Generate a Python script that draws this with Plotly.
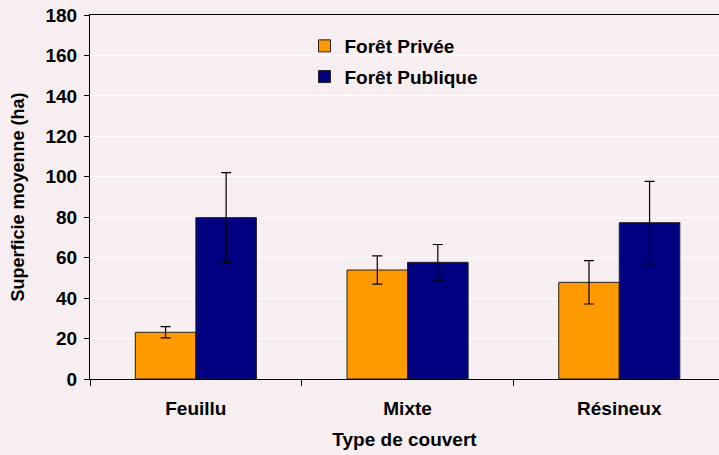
import plotly.graph_objects as go

categories = ["Feuillu", "Mixte", "Résineux"]
prive = [23.1, 53.9, 47.8]
prive_err = [2.8, 7.0, 10.7]
public = [79.8, 57.7, 77.3]
public_err = [22.3, 8.8, 20.4]
yticks = [0, 20, 40, 60, 80, 100, 120, 140, 160, 180]

FONT = "Liberation Sans, Arial, sans-serif"

fig = go.Figure()
fig.add_trace(go.Bar(
    x=categories, y=prive, name="Forêt Privée", legendgroup="a",
    marker=dict(color="#FF9900", line=dict(color="#222222", width=1)),
    error_y=dict(type="data", array=prive_err, color="black", thickness=1.2, width=5),
))
fig.add_trace(go.Bar(
    x=categories, y=public, name="Forêt Publique", legendgroup="b",
    marker=dict(color="#000080", line=dict(color="#222222", width=1)),
    error_y=dict(type="data", array=public_err, color="black", thickness=1.2, width=5),
))

fig.update_layout(
    width=719, height=455,
    margin=dict(l=90, r=0, t=15, b=76),
    paper_bgcolor="#f6eef0",
    plot_bgcolor="rgba(0,0,0,0)",
    barmode="group", bargap=0.428, bargroupgap=0,
    font=dict(family=FONT, size=20, color="black"),
    showlegend=True,
    legend=dict(
        x=0.341, y=0.967, xanchor="left", yanchor="top",
        bgcolor="rgba(0,0,0,0)", tracegroupgap=3,
        font=dict(family=FONT, size=19, color="black", weight="bold"),
        itemwidth=30,
    ),
    xaxis=dict(
        type="category", range=[-0.5, 2.471],
        showline=True, linecolor="black", linewidth=1, mirror=True,
        ticks="outside", tickson="boundaries", ticklen=6, tickcolor="black",
        ticklabelstandoff=12,
        tickfont=dict(family=FONT, size=19, weight="bold"),
        showgrid=False,
        title=dict(text="Type de couvert", standoff=14,
                   font=dict(family=FONT, size=19, weight="bold")),
    ),
    yaxis=dict(
        range=[0, 180], tickvals=yticks,
        showline=True, linecolor="black", linewidth=1,
        ticks="outside", ticklen=5, tickcolor="black",
        ticklabelstandoff=3,
        tickfont=dict(family=FONT, size=19, weight="bold"),
        showgrid=True, gridcolor="white", gridwidth=1,
        zeroline=False,
        title=dict(text="Superficie moyenne (ha)", standoff=16,
                   font=dict(family=FONT, size=18, weight="bold")),
    ),
)

fig.write_html(
    "out.html",
    config={"displayModeBar": False},
    post_script="document.body.style.margin='0';document.body.style.background='#f6eef0';",
)
